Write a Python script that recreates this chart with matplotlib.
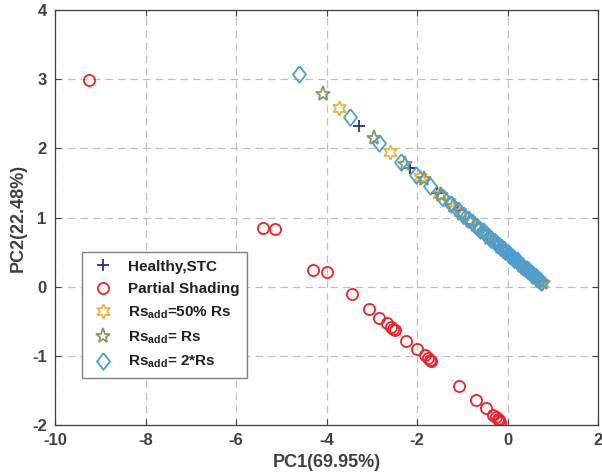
import matplotlib
matplotlib.use("Agg")
import matplotlib.pyplot as plt

plt.rcParams["font.family"] = ["Liberation Sans", "DejaVu Sans"]
plt.rcParams["font.weight"] = "bold"
plt.rcParams["axes.unicode_minus"] = False
plt.rcParams["mathtext.fontset"] = "custom"
plt.rcParams["mathtext.rm"] = "Liberation Sans:bold"
plt.rcParams["mathtext.default"] = "rm"

# scores PCA (PC1, PC2) par condition
healthy_x = [-3.28, -2.16, -1.55, -1.10, -0.75, -0.45, -0.29, -0.10, 0.10, 0.30, 0.50, 0.70]
healthy_y = [2.33, 1.72, 1.36, 1.11, 0.91, 0.74, 0.65, 0.545, 0.43, 0.32, 0.21, 0.10]

shading_x = [-9.25, -5.41, -5.14, -4.30, -4.00, -3.43, -3.06, -2.84, -2.66, -2.57,
             -2.52, -2.49, -2.24, -2.00, -1.83, -1.76, -1.72, -1.70, -1.07, -0.69,
             -0.47, -0.32, -0.26, -0.22, -0.19, -0.17]
shading_y = [2.99, 0.85, 0.84, 0.236, 0.21, -0.105, -0.32, -0.45, -0.53, -0.58,
             -0.61, -0.63, -0.78, -0.90, -0.99, -1.03, -1.06, -1.08, -1.43, -1.64,
             -1.75, -1.85, -1.88, -1.91, -1.93, -1.95]

rs50_x = [-3.72, -2.60, -1.94, -1.52, -1.30, -1.05, -0.85, -0.68, -0.54, -0.41, -0.30,
          -0.19, -0.09, 0.01, 0.11, 0.21, 0.31, 0.41, 0.51, 0.61, 0.70, 0.77]
rs50_y = [2.58, 1.95, 1.58, 1.34, 1.22, 1.08, 0.97, 0.87, 0.79, 0.72, 0.66,
          0.60, 0.54, 0.48, 0.43, 0.37, 0.31, 0.26, 0.20, 0.15, 0.095, 0.056]

rs1_x = [-4.08, -2.95, -2.27, -1.85, -1.46, -1.20, -1.00, -0.82, -0.66, -0.52, -0.40,
         -0.28, -0.17, -0.07, 0.03, 0.13, 0.23, 0.33, 0.43, 0.53, 0.63, 0.72, 0.78]
rs1_y = [2.78, 2.15, 1.78, 1.55, 1.33, 1.16, 1.05, 0.95, 0.86, 0.78, 0.71,
         0.65, 0.58, 0.53, 0.47, 0.42, 0.36, 0.30, 0.25, 0.19, 0.13, 0.08, 0.05]

rs2_x = [-4.61, -3.49, -2.83, -2.35, -2.02, -1.71, -1.45, -1.25, -1.10, -0.98, -0.88,
         -0.78, -0.70, -0.62, -0.55, -0.48, -0.42, -0.36, -0.30, -0.25, -0.20, -0.15,
         -0.10, -0.05, 0.00, 0.05, 0.10, 0.15, 0.20, 0.25, 0.30, 0.35, 0.40, 0.45,
         0.50, 0.55, 0.60, 0.65, 0.70, 0.75]
rs2_y = [3.08, 2.45, 2.08, 1.81, 1.62, 1.45, 1.30, 1.19, 1.11, 1.04, 0.98,
         0.93, 0.88, 0.84, 0.80, 0.76, 0.72, 0.69, 0.66, 0.63, 0.60, 0.57,
         0.545, 0.52, 0.49, 0.46, 0.43, 0.40, 0.38, 0.35, 0.32, 0.29, 0.26, 0.24,
         0.21, 0.18, 0.15, 0.12, 0.10, 0.07]

labels = ["Healthy,STC", "Partial Shading",
          r"Rs$_{add}$=50% Rs", r"Rs$_{add}$= Rs", r"Rs$_{add}$= 2*Rs"]

GRAY = "#404040"
# losange plus haut que large (style MATLAB)
DIAMOND = [(0, 1), (0.78, 0), (0, -1), (-0.78, 0), (0, 1)]

fig = plt.figure(figsize=(6.02, 4.75), dpi=100)
ax = fig.add_axes([0.0914, 0.105, 0.902, 0.874])

ax.plot(healthy_x, healthy_y, ls="none", marker="+", ms=8, mew=1.3,
        color="#2b2d8c", label=labels[0])
ax.plot(shading_x, shading_y, ls="none", marker="o", ms=8, mew=1.3,
        mfc="none", color="#ee2229", label=labels[1])
ax.plot(rs50_x, rs50_y, ls="none", marker=(6, 1, 0), ms=10.5, mew=1.3,
        mfc="none", color="#f0b43c", label=labels[2])
ax.plot(rs1_x, rs1_y, ls="none", marker="*", ms=11, mew=1.3,
        mfc="none", color="#889a63", label=labels[3])
ax.plot(rs2_x, rs2_y, ls="none", marker=DIAMOND, ms=12, mew=1.3,
        mfc="none", color="#4b9fd5", label=labels[4])

ax.set_xlim(-10, 2)
ax.set_ylim(-2, 4)
ax.set_xticks(range(-10, 3, 2))
ax.set_yticks(range(-2, 5))
ax.grid(True, ls=(0, (6, 4)), color="#c0c0c0", lw=0.9)
ax.set_axisbelow(True)
ax.tick_params(direction="in", top=True, right=True, length=4, pad=6,
               labelsize=12, colors=GRAY, width=0.8)
for s in ax.spines.values():
    s.set_color(GRAY)
    s.set_linewidth(0.9)
for t in ax.get_xticklabels() + ax.get_yticklabels():
    t.set_fontweight("bold")

ax.set_xlabel("PC1(69.95%)", fontsize=13, fontweight="bold", color=GRAY,
              labelpad=4)
ax.set_ylabel("PC2(22.48%)", fontsize=13, fontweight="bold", color=GRAY,
              labelpad=4)

leg = ax.legend(loc="upper left", bbox_to_anchor=(0.0497, 0.417), fontsize=11,
                fancybox=False, edgecolor="#808080", framealpha=1,
                borderaxespad=0, handletextpad=0.7, labelspacing=0.55,
                borderpad=0.5, handlelength=1.8)
leg.get_frame().set_linewidth(1.0)
for t in leg.get_texts():
    t.set_color("#202020")

fig.savefig("out.png", dpi=100)
